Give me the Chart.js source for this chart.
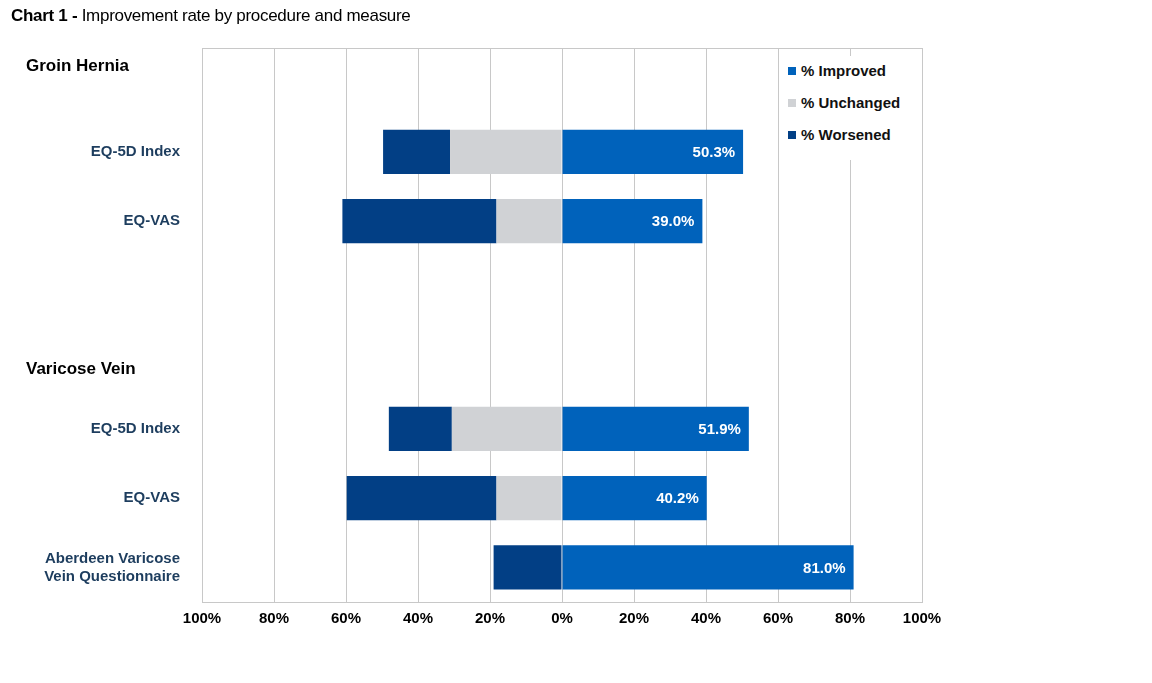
<!DOCTYPE html>
<html><head><meta charset="utf-8">
<script src="https://cdn.jsdelivr.net/npm/chart.js@4/dist/chart.umd.min.js"></script>
<style>
body{margin:0;background:#fff;font-family:"Liberation Sans",Arial,sans-serif;}
#wrap{position:relative;width:1152px;height:683px;}
#title{position:absolute;left:11px;top:6px;font-size:17px;color:#000;letter-spacing:-0.3px}
#legend{position:absolute;left:780px;top:56px;background:#fff;padding:2px 6px 6px 8px;font-weight:bold;font-size:15px;color:#111}
#legend div{height:32px;line-height:26px}
#legend span{display:inline-block;width:8px;height:8px;margin-right:5px;vertical-align:1px}
</style></head><body>
<div id="wrap">
<div id="title"><b>Chart 1 -</b> Improvement rate by procedure and measure</div>
<canvas id="c" width="1152" height="683"></canvas>
<div id="legend"></div>
</div>
<script>
const categories = ["", "EQ-5D Index", "EQ-VAS", "", "", "EQ-5D Index", "EQ-VAS", ["Aberdeen Varicose","Vein Questionnaire"]];
const groupHeaders = [{row:0, text:"Groin Hernia", dy:-16}, {row:4, text:"Varicose Vein", dy:10}];
const improved  = [null, 50.3, 39.0, null, null, 51.9, 40.2, 81.0];
const unchanged = [null, 31.1, 18.2, null, null, 30.6, 18.2, 0];
const worsened  = [null, 18.6, 42.8, null, null, 17.5, 41.6, 19.0];
const xTicks = [-100,-80,-60,-40,-20,0,20,40,60,80,100];
const seriesNames = ["% Improved","% Unchanged","% Worsened"];
const colors = ["#0062bb","#d0d2d5","#023f85"];

document.getElementById('legend').innerHTML = seriesNames.map((n,i)=>`<div><span style="background:${colors[i===2?2:i]}"></span>${n}</div>`).join('');

const neg = a => a.map(v => v==null?null:-v);
const plug = {
  id:'extra',
  afterDatasetsDraw(chart){
    const ctx = chart.ctx, y = chart.scales.y, x = chart.scales.x;
    ctx.save();
    ctx.font = 'bold 15px "Liberation Sans", Arial';
    ctx.fillStyle = '#fff'; ctx.textAlign='right'; ctx.textBaseline='middle';
    const meta = chart.getDatasetMeta(0);
    improved.forEach((v,i)=>{ if(v==null) return; const el = meta.data[i]; ctx.fillText(v.toFixed(1)+'%', el.x-8, el.y+1); });
    ctx.fillStyle='#000'; ctx.textAlign='left'; ctx.font='bold 17px "Liberation Sans", Arial';
    groupHeaders.forEach(g=>ctx.fillText(g.text, 26, y.getPixelForValue(g.row)+g.dy));
    ctx.restore();
  }
};
new Chart(document.getElementById('c'), {
  type:'bar',
  data:{labels:categories, datasets:[
    {label:seriesNames[0], data:improved, backgroundColor:colors[0]},
    {label:seriesNames[1], data:neg(unchanged), backgroundColor:colors[1]},
    {label:seriesNames[2], data:neg(worsened), backgroundColor:colors[2]}
  ]},
  options:{
    indexAxis:'y', responsive:false, animation:false,
    categoryPercentage:1, barPercentage:0.64,
    layout:{padding:{top:48,right:230,bottom:48,left:0}},
    plugins:{legend:{display:false}, tooltip:{enabled:false}},
    scales:{
      x:{stacked:true, min:-100, max:100,
        afterBuildTicks(s){ s.ticks = xTicks.map(v=>({value:v})); },
        afterFit(s){ s.height = 33; },
        grid:{color:'#c8c8c8', drawTicks:false},
        border:{color:'#c8c8c8'},
        ticks:{padding:8, color:'#000', font:{size:15, weight:'bold', family:'"Liberation Sans", Arial'}, callback:v=>Math.abs(v)+'%'}},
      y:{stacked:true,
        afterFit(s){ s.width = 202; },
        grid:{display:false},
        border:{color:'#c8c8c8'},
        ticks:{padding:14, color:'#1d3d5e', font:{size:15, weight:'bold', family:'"Liberation Sans", Arial'}}}
    }
  },
  plugins:[plug,{id:'frame',afterDraw(c){const a=c.chartArea,ctx=c.ctx;ctx.save();ctx.strokeStyle='#c8c8c8';ctx.lineWidth=1;ctx.strokeRect(a.left+0.5,a.top+0.5,a.right-a.left,a.bottom-a.top);ctx.restore();}}]
});
</script>
</body></html>
